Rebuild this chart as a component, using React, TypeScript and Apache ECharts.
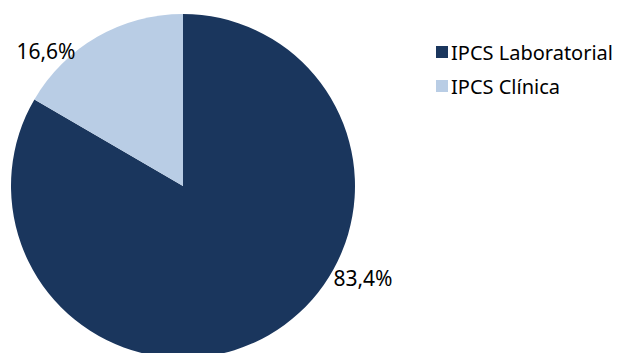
import React, { useEffect, useRef } from "react";
import * as echarts from "echarts";

const categories = ["IPCS Laboratorial", "IPCS Clínica"];
const values = [83.4, 16.6];
const labels = ["83,4%", "16,6%"];
const colors = ["#1a365d", "#b9cde5"];
const labelPos = [
  [363, 278],
  [46, 51],
];

export default function App() {
  const ref = useRef<HTMLDivElement>(null);
  useEffect(() => {
    document.body.style.margin = "0";
    const chart = echarts.init(ref.current!, null, { renderer: "svg" });
    const font = "'Noto Sans', sans-serif";
    chart.setOption({
      animation: false,
      backgroundColor: "#ffffff",
      legend: {
        orient: "vertical",
        left: 431,
        top: 35,
        itemWidth: 12,
        itemHeight: 12,
        itemGap: 10,
        icon: "rect",
        textStyle: { fontFamily: font, fontSize: 20, color: "#000", lineHeight: 24, padding: [0, 0, 0, -2] },
        data: categories,
      },
      series: [
        {
          type: "pie",
          center: [183, 186],
          radius: 172,
          startAngle: 90,
          clockwise: true,
          data: categories.map((c, i) => ({
            name: c,
            value: values[i],
            itemStyle: { color: colors[i] },
            label: { formatter: labels[i] },
          })),
          label: {
            show: true,
            position: "outside",
            fontFamily: font,
            fontSize: 21,
            color: "#000",
            overflow: "none",
            width: 200,
          },
          labelLine: { show: false },
          labelLayout: (params: any) => ({
            x: labelPos[params.dataIndex][0],
            y: labelPos[params.dataIndex][1],
            align: "center",
            verticalAlign: "middle",
          }),
          emphasis: { disabled: true },
        },
      ],
    });
    return () => chart.dispose();
  }, []);
  return <div ref={ref} style={{ width: 617, height: 353 }} />;
}
